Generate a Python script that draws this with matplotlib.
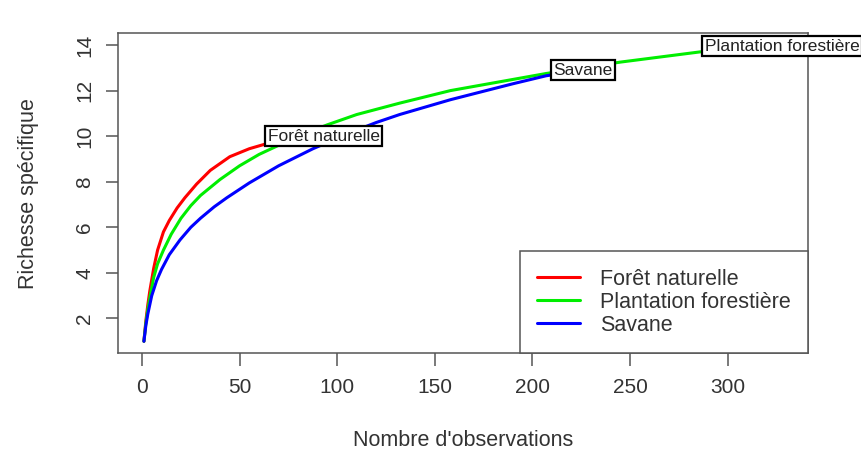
import matplotlib
matplotlib.use("Agg")
import matplotlib.pyplot as plt

plt.rcParams["font.family"] = ["Liberation Sans", "DejaVu Sans"]

# rarefaction curves
foret_x = [1, 2, 3, 4, 6, 8, 11, 14, 18, 22, 28, 35, 45, 55, 65, 78, 93]
foret_y = [1, 1.9, 2.6, 3.2, 4.2, 5.0, 5.8, 6.3, 6.85, 7.3, 7.9, 8.5, 9.1, 9.45,
           9.7, 9.88, 10.0]

plant_x = [1, 2, 3, 4, 6, 8, 11, 15, 20, 25, 30, 40, 50, 60, 70, 80, 95, 110,
           132, 158, 207, 245, 286, 328]
plant_y = [1, 1.8, 2.4, 2.9, 3.8, 4.4, 5.0, 5.7, 6.4, 6.95, 7.4, 8.1, 8.7, 9.2,
           9.6, 10.0, 10.5, 10.95, 11.45, 12.0, 12.75, 13.25, 13.7, 13.95]

sav_x = [1, 2, 3, 5, 7.5, 10, 14, 19.5, 25, 30, 37, 43.5, 55, 70, 87.6, 108,
         120, 132, 158, 190, 207, 226]
sav_y = [1, 1.7, 2.2, 3.0, 3.66, 4.15, 4.8, 5.45, 6.0, 6.4, 6.9, 7.3, 7.95, 8.7,
         9.45, 10.2, 10.6, 10.95, 11.6, 12.3, 12.65, 12.9]

series = [
    ("Forêt naturelle", foret_x, foret_y, "#ff0000"),
    ("Plantation forestière", plant_x, plant_y, "#00ee00"),
    ("Savane", sav_x, sav_y, "#0000ff"),
]

xticks = [0, 50, 100, 150, 200, 250, 300]
yticks = [2, 4, 6, 8, 10, 12, 14]

fig = plt.figure(figsize=(8.61, 4.74), dpi=100)
ax = fig.add_axes([0.137, 0.255, 0.801, 0.675])

for name, xs, ys, col in series:
    ax.plot(xs, ys, color=col, lw=2.2, label=name, solid_capstyle="round")

# boxed labels centred on the end of each curve
for name, xs, ys, col in series:
    ax.text(xs[-1], ys[-1], name, ha="center", va="center", fontsize=12.5,
            color="#222222", zorder=5, clip_on=False,
            bbox=dict(boxstyle="square,pad=0.15", fc="white", ec="black", lw=1.6))

ax.set_xlim(-12.3, 341)
ax.set_ylim(0.48, 14.52)
ax.set_xticks(xticks)
ax.set_yticks(yticks)
ax.tick_params(axis="both", direction="out", length=9, width=1.1, color="#555555",
               labelsize=15, labelcolor="#333333")
ax.tick_params(axis="x", pad=9)
ax.tick_params(axis="y", pad=8)
plt.setp(ax.get_yticklabels(), rotation=90, va="center")
for sp in ax.spines.values():
    sp.set_color("#555555")
    sp.set_linewidth(1.1)

ax.set_xlabel("Nombre d'observations", fontsize=15.5, color="#333333", labelpad=24)
ax.set_ylabel("Richesse spécifique", fontsize=15.5, color="#333333", labelpad=26)

leg = ax.legend(loc="lower right", bbox_to_anchor=(1, 0), borderaxespad=0,
                fontsize=15.5, handlelength=2.0, handletextpad=0.9,
                labelspacing=0.1, borderpad=0.8, fancybox=False, framealpha=1)
leg.get_frame().set_edgecolor("#555555")
leg.get_frame().set_linewidth(1.1)
for t in leg.get_texts():
    t.set_color("#333333")

fig.savefig("out.png", dpi=100)
